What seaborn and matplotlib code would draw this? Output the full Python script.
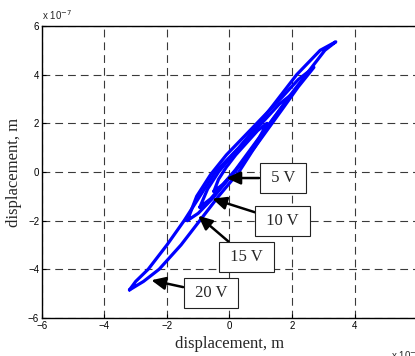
import pandas as pd
import matplotlib.pyplot as plt
import seaborn as sns

# displacement values in units of 1e-7 m
loop_names = ['5 V', '10 V', '15 V', '20 V']

x_5v = [-0.5, -0.2, 0.1, 0.4, 0.7, 0.95, 1.2, 0.9, 0.55, 0.2, -0.1, -0.35, -0.5]
y_5v = [-0.8, -0.5, -0.1, 0.4, 0.9, 1.4, 2.0, 1.7, 1.2, 0.7, 0.2, -0.3, -0.8]

x_10v = [-0.95, -0.6, -0.2, 0.2, 0.6, 1.0, 1.4, 1.7, 2.0, 1.6, 1.1, 0.6, 0.1, -0.35, -0.7, -0.95]
y_10v = [-1.45, -1.1, -0.5, 0.1, 0.8, 1.5, 2.2, 2.7, 3.2, 2.8, 2.1, 1.4, 0.7, 0.0, -0.7, -1.45]

x_15v = [-1.35, -1.0, -0.55, -0.1, 0.35, 0.8, 1.25, 1.7, 2.2, 2.7,
         2.2, 1.7, 1.1, 0.5, -0.1, -0.6, -1.05, -1.35]
y_15v = [-2.0, -1.7, -1.1, -0.4, 0.3, 1.0, 1.8, 2.6, 3.5, 4.3,
         3.8, 3.1, 2.3, 1.5, 0.7, -0.1, -1.0, -2.0]

x_20v = [-3.2, -2.75, -2.25, -1.55, -0.95, -0.35, 0.3, 0.8, 1.3, 1.85, 2.45, 3.05, 3.4,
         2.9, 2.15, 1.55, 0.95, 0.3, -0.45, -0.95, -1.45, -2.0, -2.6, -3.0, -3.2]
y_20v = [-4.85, -4.5, -4.0, -3.0, -2.0, -1.0, 0.0, 1.0, 2.0, 3.0, 4.0, 5.0, 5.35,
         5.0, 4.0, 3.0, 2.0, 1.0, 0.0, -1.0, -2.0, -3.0, -4.0, -4.5, -4.85]

# label position and arrow target for each loop
label_x = [1.7, 1.7, 0.55, -0.6]
label_y = [-0.25, -2.02, -3.5, -4.98]
arrow_x = [-0.1, -0.55, -1.0, -2.5]
arrow_y = [-0.25, -1.1, -1.8, -4.45]

ticks = [-6, -4, -2, 0, 2, 4, 6]


def construir_tabla():
    partes = []
    for nombre, xs, ys in zip(loop_names, [x_5v, x_10v, x_15v, x_20v], [y_5v, y_10v, y_15v, y_20v]):
        d = pd.DataFrame({'x': xs, 'y': ys})
        d['loop'] = nombre
        partes.append(d)
    return pd.concat(partes, ignore_index=True)


def generar_grafica(df):
    sns.set_style('white')
    plt.rcParams['font.family'] = ['Liberation Sans', 'DejaVu Sans']

    fig = plt.figure(figsize=(4.15, 3.56), dpi=100)
    ax = fig.add_axes([0.101, 0.107, 0.904, 0.820])

    sns.lineplot(data=df, x='x', y='y', units='loop', estimator=None, sort=False,
                 color='#0000ff', linewidth=2.3, ax=ax)

    ax.set_xlim(-6, 6)
    ax.set_ylim(-6, 6)
    ax.set_xticks(ticks)
    ax.set_yticks(ticks)
    ax.grid(True, color='#3a3a3a', linestyle=(0, (7, 4.5)), linewidth=0.8)
    for s in ax.spines.values():
        s.set_color('black')
        s.set_linewidth(1.0)
    ax.tick_params(direction='in', length=3, width=0.8, labelsize=7, pad=2,
                   colors='black', left=True, bottom=True)

    serif = ['Liberation Serif', 'DejaVu Serif']
    ax.set_xlabel('displacement, m', family=serif, fontsize=12, labelpad=4)
    ax.set_ylabel('displacement, m', family=serif, fontsize=12, labelpad=4)

    ax.text(0.0, 1.015, 'x 10$^{-7}$', transform=ax.transAxes, fontsize=7, va='bottom', ha='left')
    ax.text(0.93, -0.105, 'x 10$^{-7}$', transform=ax.transAxes, fontsize=7, va='top', ha='left')

    for nombre, lx, ly, axx, ayy in zip(loop_names, label_x, label_y, arrow_x, arrow_y):
        ax.annotate(' ' + nombre + ' ', xy=(axx, ayy), xytext=(lx, ly), family=serif, fontsize=12,
                    ha='center', va='center',
                    bbox=dict(boxstyle='square,pad=0.42', fc='white', ec='#222222', lw=0.8),
                    arrowprops=dict(arrowstyle='-|>,head_length=0.7,head_width=0.32',
                                    color='black', lw=1.8, shrinkA=0, shrinkB=0))

    fig.savefig('out.png', dpi=100)


if __name__ == '__main__':
    generar_grafica(construir_tabla())
